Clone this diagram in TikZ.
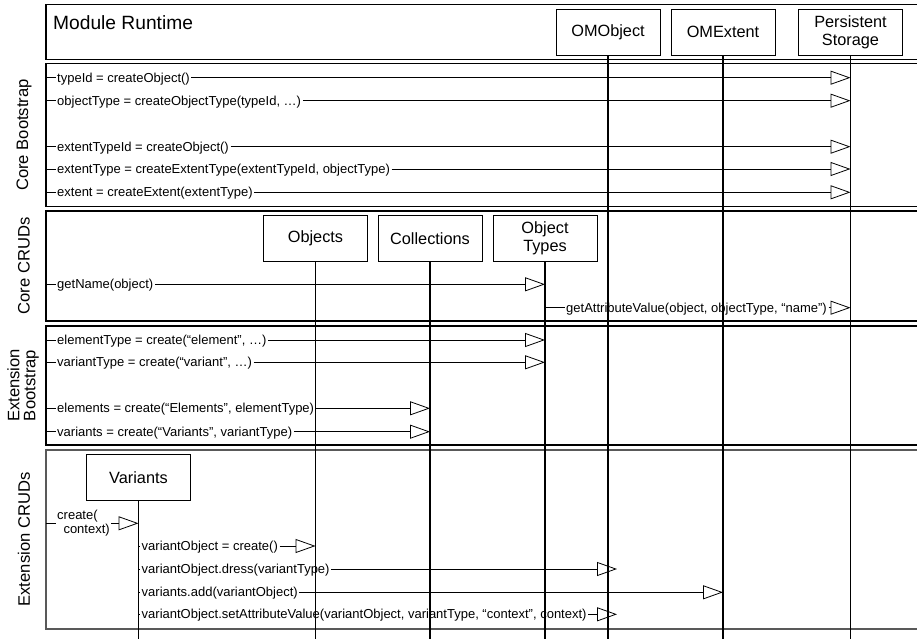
\documentclass[tikz,border=0pt]{standalone}
\usepackage{fontspec}
\setmainfont{Liberation Sans}
\usetikzlibrary{arrows.meta}

\begin{document}
\begin{tikzpicture}[
  x=1pt, y=-1pt,
  frame/.style={draw, line width=1.3pt},
  lastframe/.style={draw=black!65, line width=1.6pt},
  lifebox/.style={draw, line width=0.9pt, fill=white, minimum width=104pt,
                  minimum height=46pt, align=center, inner sep=2pt,
                  font=\fontsize{16.3}{18}\selectfont},
  title/.style={inner sep=0pt, font=\fontsize{19.2}{22}\selectfont},
  seclbl/.style={rotate=90, align=center, inner sep=0pt,
                 font=\fontsize{16.6}{16}\selectfont},
  msg/.style={anchor=west, inner sep=1.5pt, text height=9.3pt, text depth=0pt,
              font=\fontsize{13}{14.5}\selectfont},
  stub/.style={line width=0.8pt},
  call/.style={-{Triangle[open, length=20pt, width=14pt]}, line width=0.8pt},
  life/.style={line width=1.2pt},
]
\useasboundingbox (0,0) rectangle (917,639);
\clip (0,0) rectangle (917,639);

%% ---- Section frames (open to the right) ----
\draw[frame] (46,4.5)   rectangle (930,59.5);
\draw[frame] (46,63.5)  rectangle (930,206.5);
\draw[frame] (46,211)   rectangle (930,321);
\draw[frame] (46,326)   rectangle (930,445);
\draw[lastframe] (46,450) rectangle (930,629);
\coordinate (L) at (46,0);
\coordinate (B) at (0,639);

%% ---- Section labels ----
\node[title, anchor=base west] (mr) at (53,29.5) {Module Runtime};
\node[seclbl] (lcb) at (24,135)   {Core Bootstrap};
\node[seclbl] (lcc) at (24,266)   {Core CRUDs};
\node[seclbl] (leb) at (23,385.5) {Extension\\Bootstrap};
\node[seclbl] (lec) at (24,539.5) {Extension CRUDs};

%% ---- Participants ----
\node[lifebox] (om)     at (608,32)      {OMObject};
\node[lifebox] (oe)     at (723,32)      {OMExtent};
\node[lifebox] (ps)     at (850.5,32)    {Persistent\\Storage};
\node[lifebox] (objs)   at (315.5,238.5) {Objects};
\node[lifebox] (colls)  at (430,238.5)   {Collections};
\node[lifebox] (otypes) at (545,238.5)   {Object\\Types};
\node[lifebox] (var)    at (138.5,477.5) {Variants};

%% ---- Lifelines ----
\draw[life] (om.south)     -- (om.south |- B);
\draw[life] (oe.south)     -- (oe.south |- B);
\draw[life] (ps.south)     -- (ps.south |- B);
\draw[life] (objs.south)   -- (objs.south |- B);
\draw[life] (colls.south)  -- (colls.south |- B);
\draw[life] (otypes.south) -- (otypes.south |- B);
\draw[life] (var.south)    -- (var.south |- B);

%% ---- Core Bootstrap ----
\node[msg] (m1) at (55.5,77.7)  {typeId = createObject()};
\node[msg] (m2) at (55.5,100.7) {objectType = createObjectType(typeId, …)};
\node[msg] (m3) at (55.5,146.7) {extentTypeId = createObject()};
\node[msg] (m4) at (55.5,169)   {extentType = createExtentType(extentTypeId, objectType)};
\node[msg] (m5) at (55.5,192.3) {extent = createExtent(extentType)};
\draw[stub] (m1.west -| L) -- (m1.west);  \draw[call] (m1.east) -- (m1.east -| ps);
\draw[stub] (m2.west -| L) -- (m2.west);  \draw[call] (m2.east) -- (m2.east -| ps);
\draw[stub] (m3.west -| L) -- (m3.west);  \draw[call] (m3.east) -- (m3.east -| ps);
\draw[stub] (m4.west -| L) -- (m4.west);  \draw[call] (m4.east) -- (m4.east -| ps);
\draw[stub] (m5.west -| L) -- (m5.west);  \draw[call] (m5.east) -- (m5.east -| ps);

%% ---- Core CRUDs ----
\node[msg] (m6) at (55.5,284.3)  {getName(object)};
\node[msg] (m7) at (564.5,307.7) {getAttributeValue(object, objectType, “name”)};
\draw[stub] (m6.west -| L) -- (m6.west);       \draw[call] (m6.east) -- (m6.east -| otypes);
\draw[stub] (m7.west -| otypes) -- (m7.west);  \draw[call] (m7.east) -- (m7.east -| ps);

%% ---- Extension Bootstrap ----
\node[msg] (m8)  at (55.5,340)   {elementType = create(“element”, …)};
\node[msg] (m9)  at (55.5,362.3) {variantType = create(“variant”, …)};
\node[msg] (m10) at (55.5,408.3) {elements = create(“Elements”, elementType)};
\node[msg] (m11) at (55.5,431.7) {variants = create(“Variants”, variantType)};
\draw[stub] (m8.west -| L) -- (m8.west);    \draw[call] (m8.east) -- (m8.east -| otypes);
\draw[stub] (m9.west -| L) -- (m9.west);    \draw[call] (m9.east) -- (m9.east -| otypes);
\draw[stub] (m10.west -| L) -- (m10.west);  \draw[call] (m10.east) -- (m10.east -| colls);
\draw[stub] (m11.west -| L) -- (m11.west);  \draw[call] (m11.east) -- (m11.east -| colls);

%% ---- Extension CRUDs ----
\node[msg, text height=, text depth=, align=left] (m12) at (55.5,523.3)
  {create(\\\hspace*{6.3pt}context)};
\node[msg] (m13) at (140,546)   {variantObject = create()};
\node[msg] (m14) at (140,569)   {variantObject.dress(variantType)};
\node[msg] (m15) at (140,592.3) {variants.add(variantObject)};
\node[msg] (m16) at (140,614.3)
  {variantObject.setAttributeValue(variantObject, variantType, “context”, context)};
\draw[stub] (m12.west -| L) -- (m12.west);    \draw[call] (m12.east) -- (m12.east -| var);
\draw[stub] (m13.west -| var) -- (m13.west);  \draw[call] (m13.east) -- (m13.east -| objs);
\draw[stub] (m14.west -| var) -- (m14.west);  \draw[call, shorten >=-9pt] (m14.east) -- (m14.east -| om);
\draw[stub] (m15.west -| var) -- (m15.west);  \draw[call] (m15.east) -- (m15.east -| oe);
\draw[stub] (m16.west -| var) -- (m16.west);  \draw[call, shorten >=-9pt] (m16.east) -- (m16.east -| om);
\end{tikzpicture}
\end{document}
